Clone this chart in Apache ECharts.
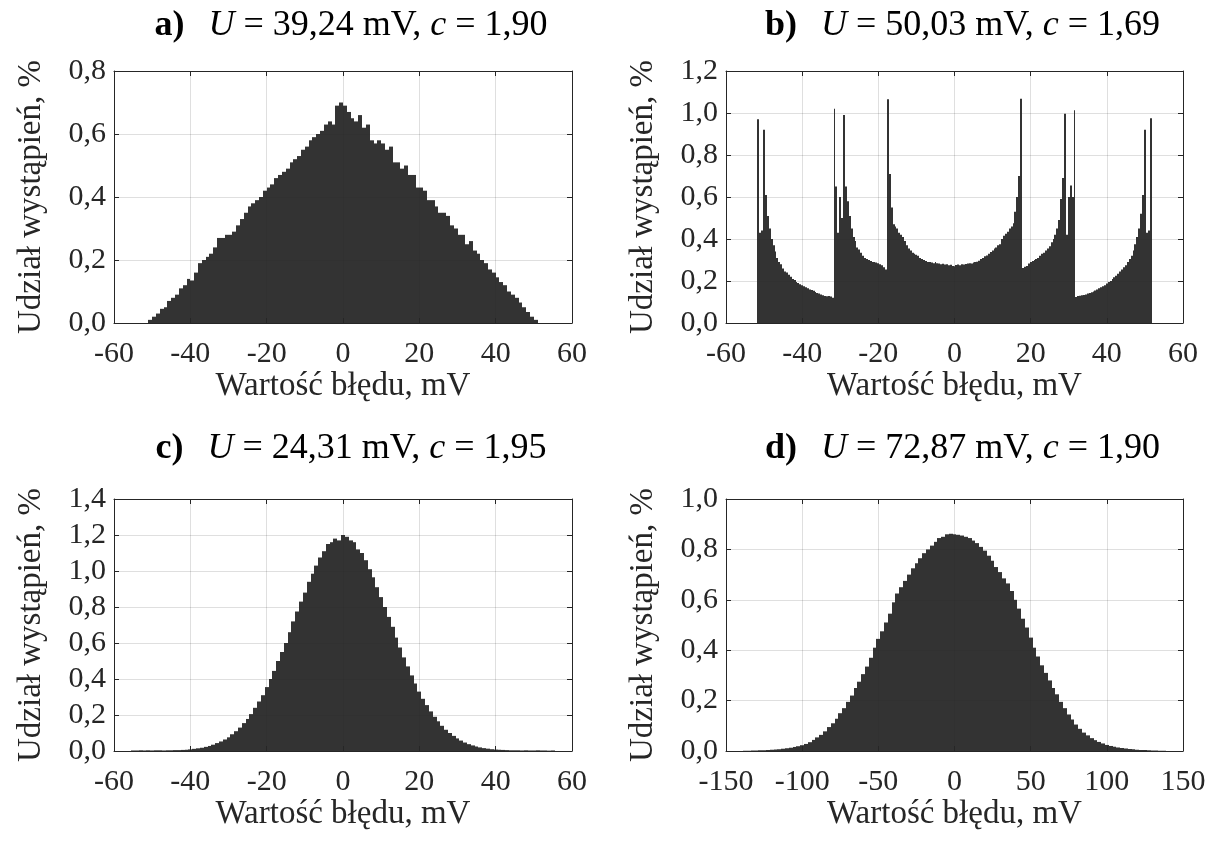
<!DOCTYPE html>
<html><head><meta charset="utf-8">
<script src="https://cdn.jsdelivr.net/npm/echarts@6.0.0/dist/echarts.min.js"></script>
<style>html,body{margin:0;padding:0;background:#fff}#c{width:1215px;height:844px}</style>
</head><body><div id="c"></div>
<script>
// ---------------- data ----------------
const xName = 'Wartość błędu, mV';
const yName = 'Udział wystąpień, %';

// a) U = 39,24 mV, c = 1,90  (bin centres from aStart, step aStep)
const aStart = -50.5, aStep = 1;
const aValues = [
 0.01,0.02,0.03,0.045,0.05,0.07,0.08,0.09,0.11,0.12,
 0.14,0.135,0.16,0.19,0.20,0.21,0.22,0.24,0.27,0.27,
 0.28,0.28,0.29,0.31,0.33,0.35,0.37,0.38,0.39,0.40,
 0.42,0.43,0.44,0.46,0.47,0.48,0.49,0.51,0.52,0.53,
 0.55,0.56,0.58,0.59,0.60,0.61,0.63,0.64,0.63,0.69,
 0.70,0.69,0.67,0.65,0.64,0.66,0.62,0.63,0.58,0.57,
 0.58,0.57,0.55,0.56,0.51,0.51,0.49,0.50,0.47,0.47,
 0.43,0.43,0.42,0.39,0.39,0.37,0.35,0.35,0.34,0.31,
 0.30,0.28,0.28,0.25,0.26,0.23,0.22,0.20,0.19,0.17,
 0.16,0.145,0.13,0.12,0.10,0.09,0.08,0.065,0.05,0.035,
 0.02,0.01
];

// b) U = 50,03 mV, c = 1,69
const bStart = -51.5, bStep = 0.5;
const bValues = [
 0.97,0.43,0.44,0.92,0.61,0.51,0.45,0.40,0.37,0.34,
 0.31,0.29,0.28,0.26,0.245,0.24,0.23,0.22,0.21,0.205,
 0.195,0.19,0.185,0.18,0.175,0.17,0.165,0.16,0.157,0.153,
 0.148,0.143,0.14,0.136,0.132,0.128,0.127,0.128,0.126,0.12,
 1.02,0.65,0.43,0.60,0.50,0.99,0.65,0.58,0.51,0.45,
 0.41,0.39,0.36,0.35,0.335,0.32,0.31,0.305,0.30,0.295,
 0.29,0.29,0.288,0.285,0.28,0.275,0.265,0.255,1.065,0.71,
 0.55,0.47,0.46,0.45,0.43,0.42,0.41,0.39,0.37,0.355,
 0.345,0.335,0.33,0.325,0.32,0.31,0.305,0.30,0.295,0.29,
 0.29,0.288,0.285,0.29,0.285,0.283,0.28,0.282,0.278,0.28,
 0.275,0.277,0.272,0.27,0.276,0.279,0.275,0.28,0.278,0.281,
 0.283,0.285,0.283,0.288,0.29,0.292,0.297,0.305,0.31,0.318,
 0.322,0.33,0.338,0.345,0.355,0.36,0.37,0.375,0.40,0.415,
 0.425,0.435,0.45,0.46,0.475,0.53,0.60,0.70,1.068,0.262,
 0.268,0.272,0.283,0.29,0.295,0.30,0.305,0.31,0.32,0.33,
 0.335,0.345,0.355,0.365,0.385,0.40,0.42,0.45,0.49,0.59,
 0.69,0.997,0.42,0.60,0.655,0.60,1.013,0.124,0.128,0.13,
 0.132,0.133,0.136,0.14,0.143,0.147,0.15,0.155,0.16,0.165,
 0.17,0.175,0.18,0.188,0.195,0.20,0.21,0.218,0.225,0.235,
 0.245,0.255,0.265,0.275,0.29,0.305,0.32,0.345,0.375,0.41,
 0.45,0.52,0.61,0.92,0.43,0.44,0.975
];

// c) U = 24,31 mV, c = 1,95
const cStart = -55, cStep = 1;
const cValues = [
 0.003,0.003,0.004,0.003,0.004,0.003,0.004,0.004,0.003,0.004,
 0.004,0.005,0.005,0.006,0.007,0.009,0.012,0.015,0.018,0.023,
 0.028,0.035,0.044,0.053,0.064,0.076,0.093,0.11,0.13,0.155,
 0.178,0.205,0.24,0.275,0.31,0.355,0.40,0.445,0.50,0.55,
 0.60,0.66,0.72,0.775,0.83,0.88,0.94,0.985,1.03,1.075,
 1.11,1.15,1.16,1.18,1.17,1.20,1.19,1.17,1.16,1.12,
 1.10,1.06,1.01,0.965,0.91,0.855,0.80,0.745,0.69,0.63,
 0.575,0.52,0.47,0.42,0.375,0.33,0.29,0.255,0.22,0.19,
 0.165,0.14,0.118,0.10,0.084,0.07,0.058,0.047,0.038,0.031,
 0.025,0.02,0.016,0.013,0.01,0.008,0.007,0.006,0.005,0.004,
 0.004,0.004,0.003,0.004,0.003,0.003,0.004,0.003,0.003,0.002,0.003
];

// d) U = 72,87 mV, c = 1,90
const dStart = -137.5, dStep = 2.5;
const dValues = [
 0.001,0.001,0.002,0.002,0.003,0.003,0.004,0.005,0.006,0.007,
 0.009,0.011,0.013,0.016,0.019,0.023,0.028,0.035,0.044,0.054,
 0.064,0.078,0.095,0.11,0.128,0.15,0.17,0.195,0.22,0.25,
 0.275,0.305,0.335,0.37,0.41,0.445,0.475,0.51,0.545,0.59,
 0.625,0.65,0.675,0.70,0.725,0.745,0.765,0.785,0.80,0.815,
 0.83,0.845,0.85,0.86,0.862,0.86,0.858,0.855,0.85,0.845,
 0.835,0.825,0.81,0.795,0.775,0.755,0.73,0.71,0.685,0.665,
 0.635,0.60,0.565,0.525,0.49,0.45,0.41,0.375,0.34,0.31,
 0.28,0.25,0.225,0.195,0.17,0.145,0.125,0.105,0.088,0.073,
 0.062,0.051,0.043,0.036,0.03,0.024,0.02,0.017,0.014,0.012,
 0.01,0.008,0.007,0.005,0.004,0.004,0.003,0.002,0.002,0.001,0.001
];

// titles / axis ranges
const titles = [
  ['a)', 'U', '39,24', 'c', '1,90'],
  ['b)', 'U', '50,03', 'c', '1,69'],
  ['c)', 'U', '24,31', 'c', '1,95'],
  ['d)', 'U', '72,87', 'c', '1,90']
];
const xRanges = [[-60, 60, 20], [-60, 60, 20], [-60, 60, 20], [-150, 150, 50]];
const yRanges = [[0, 0.8], [0, 1.2], [0, 1.4], [0, 1.0]];
const yStep = 0.2;

// ---------------- layout / style ----------------
const FONT = 'Liberation Serif';
const TXT = '#262626';
const grids = [
  {left: 114, top: 71, width: 458, height: 252, titleTop: 3},
  {left: 726, top: 71, width: 457, height: 252, titleTop: 3},
  {left: 114, top: 499, width: 458, height: 252, titleTop: 426},
  {left: 726, top: 499, width: 457, height: 252, titleTop: 426}
];
const panels = [
  {start: aStart, step: aStep, vals: aValues},
  {start: bStart, step: bStep, vals: bValues},
  {start: cStart, step: cStep, vals: cValues},
  {start: dStart, step: dStep, vals: dValues}
];

const fmtY = v => v.toFixed(1).replace('.', ',');
const TS = 36;

const option = {
  animation: false,
  backgroundColor: '#fff',
  title: [], grid: [], xAxis: [], yAxis: [], series: []
};

grids.forEach((g, i) => {
  option.grid.push({left: g.left, top: g.top, width: g.width, height: g.height, containLabel: false});
  const t = titles[i];
  option.title.push({
    text: '{b|' + t[0] + '}{sp|}{i|' + t[1] + '}{n| = ' + t[2] + ' mV, }{i|' + t[3] + '}{n| = ' + t[4] + '}',
    left: g.left + g.width / 2 + 3,
    top: g.titleTop,
    textAlign: 'center',
    textStyle: {
      fontWeight: 'normal', fontFamily: FONT, fontSize: TS, color: '#000',
      rich: {
        b: {fontFamily: FONT, fontSize: TS, fontWeight: 'bold', color: '#000'},
        sp: {width: 24},
        i: {fontFamily: FONT, fontSize: TS, fontStyle: 'italic', fontWeight: 'normal', color: '#000'},
        n: {fontFamily: FONT, fontSize: TS, fontWeight: 'normal', color: '#000'}
      }
    }
  });
  const xr = xRanges[i], yr = yRanges[i];
  const common = {
    gridIndex: i, type: 'value', z: 3,
    axisLine: {show: true, onZero: false, lineStyle: {color: TXT, width: 1}},
    axisTick: {show: true, inside: true, length: 5, lineStyle: {color: TXT}}
  };
  option.xAxis.push(Object.assign({}, common, {
    position: 'bottom', min: xr[0], max: xr[1], interval: xr[2],
    axisLabel: {fontFamily: FONT, fontSize: 30, color: TXT, margin: 16},
    splitLine: {show: true, lineStyle: {color: 'rgba(38,38,38,0.15)', width: 1}},
    name: xName, nameLocation: 'middle', nameGap: 36,
    nameTextStyle: {fontFamily: FONT, fontSize: 33, color: TXT}
  }));
  option.xAxis.push(Object.assign({}, common, {
    position: 'top', min: xr[0], max: xr[1], interval: xr[2],
    axisLabel: {show: false}, splitLine: {show: false}
  }));
  option.yAxis.push(Object.assign({}, common, {
    position: 'left', min: yr[0], max: yr[1], interval: yStep,
    axisLabel: {fontFamily: FONT, fontSize: 30, color: TXT, margin: 8, formatter: fmtY},
    splitLine: {show: true, lineStyle: {color: 'rgba(38,38,38,0.15)', width: 1}},
    name: yName, nameLocation: 'middle', nameGap: 66,
    nameTextStyle: {fontFamily: FONT, fontSize: 33, color: TXT}
  }));
  option.yAxis.push(Object.assign({}, common, {
    position: 'right', min: yr[0], max: yr[1], interval: yStep,
    axisLabel: {show: false}, splitLine: {show: false}
  }));
  const p = panels[i];
  const w = p.step;
  option.series.push({
    type: 'custom',
    xAxisIndex: 2 * i, yAxisIndex: 2 * i,
    data: p.vals.map((v, k) => [p.start + k * p.step, v]),
    renderItem: function (params, api) {
      const x = api.value(0), y = api.value(1);
      const p0 = api.coord([x - w / 2, y]);
      const p1 = api.coord([x + w / 2, 0]);
      const x0 = Math.round(p0[0]), x1 = Math.round(p1[0]);
      return {
        type: 'rect',
        shape: {x: x0, y: p0[1], width: Math.max(1, x1 - x0), height: p1[1] - p0[1]},
        style: {fill: '#333333'}
      };
    },
    z: 2
  });
});

const chart = echarts.init(document.getElementById('c'), null, {renderer: 'canvas'});
chart.setOption(option);
</script>
</body></html>
